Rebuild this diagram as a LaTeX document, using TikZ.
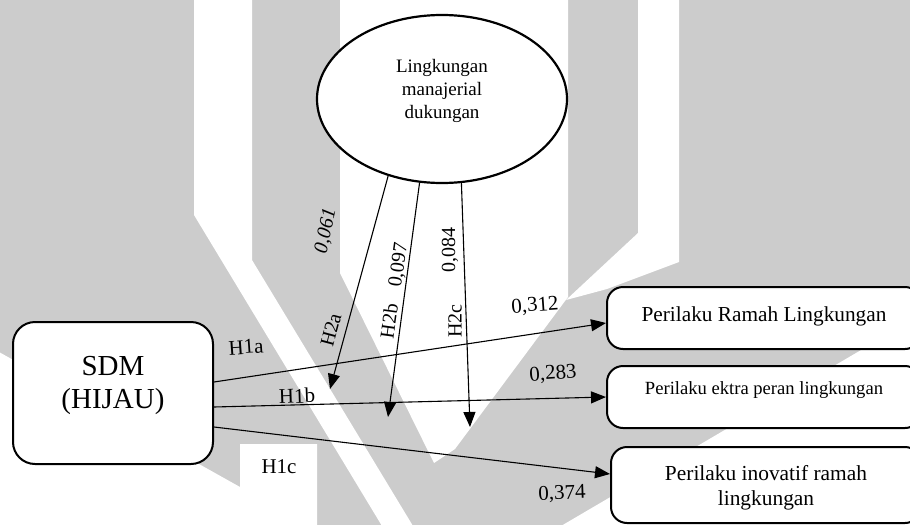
\documentclass[tikz,border=0pt]{standalone}
\usepackage{fontspec}
\setmainfont{Liberation Serif}
\usetikzlibrary{arrows.meta,shapes.geometric,calc}
\definecolor{wmgrey}{HTML}{CCCCCC}
\begin{document}
\begin{tikzpicture}[x=1pt,y=-1pt,
  stagebox/.style={draw, line width=2pt, rounded corners=16pt, fill=white, inner sep=0pt},
  conn/.style={line width=1.1pt, -{Triangle[length=15pt,width=12pt]}},
  lbl/.style={font=\fontsize{21}{25}\selectfont, inner sep=0pt},
  rlbl/.style={font=\fontsize{20}{24}\selectfont, inner sep=0pt},
  boxtext/.style={font=\fontsize{21.3}{25}\selectfont, align=center, inner sep=0pt}]

% canvas and faint logo in the background
\clip (0,0) rectangle (910,525);
\fill[wmgrey] (0,0) rectangle (910,525);
\fill[white] (194,-1) -- (252,-1) -- (252,260) -- (413,526) -- (382,526) -- (194,215) -- cycle;
\fill[white] (-1,352) -- (240,487) -- (240,444) -- (317,444) -- (317,526) -- (-1,526) -- cycle;
\fill[white] (340,-1) -- (568,-1) -- (568,297) -- (455,449) -- (434,463) -- (340,273) -- cycle;
\fill[white] (638,-1) -- (679,-1) -- (679,262) -- (607,289) -- (566,300) -- (638,233) -- cycle;
\fill[white] (914,319) -- (914,526) -- (561,526) -- cycle;

% moderating construct
\node[draw, ellipse, line width=2.2pt, fill=white, minimum width=250pt, minimum height=168pt] (lmd) at (442,99) {};
\node[font=\fontsize{19}{23}\selectfont, align=center, inner sep=0pt] (lmdtext) at (442,91) {Lingkungan\\manajerial\\dukungan};

% independent construct
\node[stagebox, minimum width=200pt, minimum height=142pt, rounded corners=22pt] (sdm) at (113,393) {};
\node[font=\fontsize{29}{33}\selectfont, align=center, inner sep=0pt] (sdmtext) at (113,385) {SDM\\(HIJAU)};

% outcome constructs
\node[stagebox, minimum width=314pt, minimum height=62pt] (pr1) at (764,318) {};
\node[boxtext] (pr1text) at (764,316) {Perilaku Ramah Lingkungan};
\node[stagebox, minimum width=314pt, minimum height=62pt] (pr2) at (764,397) {};
\node[boxtext, font=\fontsize{18.6}{22}\selectfont] (pr2text) at (764,390) {Perilaku ektra peran lingkungan};
\node[stagebox, minimum width=310pt, minimum height=76pt] (pr3) at (766,485) {};
\node[boxtext, font=\fontsize{21.4}{25}\selectfont] (pr3text) at (766,488) {Perilaku inovatif ramah\\lingkungan};

% direct paths H1
\draw[conn] ($(sdm.east)+(0,-11)$) -- ($(pr1.west)+(0,5)$);
\draw[conn] ($(sdm.east)+(0,14)$) -- (pr2.west);
\draw[conn] ($(sdm.east)+(0,34)$) -- ($(pr3.west)+(0,-11)$);

% moderation paths H2
\coordinate (h2aend) at (330,389);
\coordinate (h2bend) at (388,417);
\coordinate (h2cend) at (470,427);
\draw[conn] (lmd.235) -- (h2aend);
\draw[conn] (lmd.255) -- (h2bend);
\draw[conn] (lmd.283) -- (h2cend);

% path labels
\node[lbl, rotate=4] (c312) at (535,306) {0,312};
\node[lbl, rotate=4] (c283) at (553,374) {0,283};
\node[lbl, rotate=2] (c374) at (562,494) {0,374};
\node[lbl, rotate=4] (h1a) at (246,347) {H1a};
\node[lbl, rotate=2] (h1b) at (297,396) {H1b};
\node[lbl] (h1c) at (279,467) {H1c};
\node[rlbl, rotate=78, font=\fontsize{20}{24}\selectfont\itshape] (c061) at (326,231) {0,061};
\node[rlbl, rotate=75] (h2a) at (331,330) {H2a};
\node[rlbl, rotate=82] (c097) at (399,265) {0,097};
\node[rlbl, rotate=82] (h2b) at (389,321) {H2b};
\node[rlbl, rotate=90] (c084) at (450,250) {0,084};
\node[rlbl, rotate=90] (h2c) at (455,321) {H2c};
\end{tikzpicture}
\end{document}
